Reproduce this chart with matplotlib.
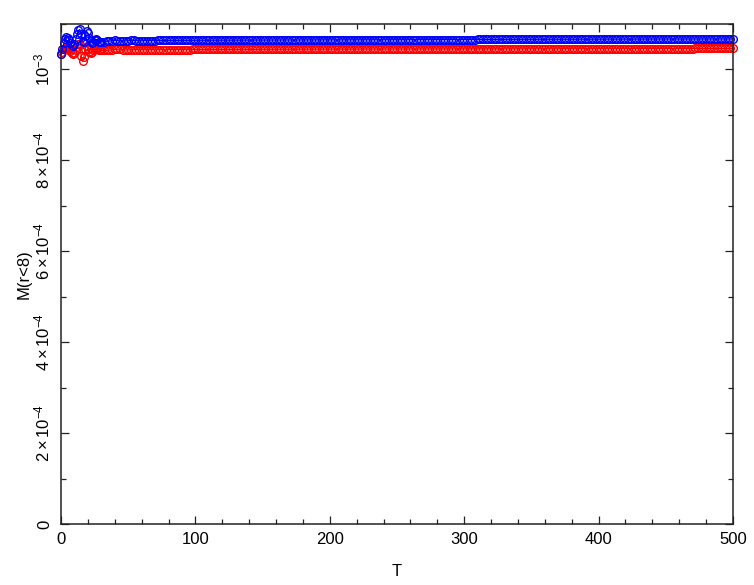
import numpy as np
import matplotlib
matplotlib.use("Agg")
import matplotlib.pyplot as plt
from matplotlib.ticker import MultipleLocator, FixedLocator

plt.rcParams['font.family'] = ['Liberation Sans', 'DejaVu Sans']
plt.rcParams['mathtext.fontset'] = 'custom'
plt.rcParams['mathtext.rm'] = 'Liberation Sans'
plt.rcParams['mathtext.it'] = 'Liberation Sans'

# early part, one point per unit of T (values in units of 1e-3)
t_early = np.arange(0, 31)
blue_early = [1.033, 1.045, 1.058, 1.068, 1.072, 1.070, 1.064, 1.058, 1.054, 1.052,
              1.056, 1.066, 1.078, 1.086, 1.088, 1.078, 1.062, 1.060, 1.074, 1.084,
              1.080, 1.070, 1.062, 1.058, 1.060, 1.064, 1.066, 1.064, 1.061, 1.060,
              1.061]
red_early = [1.033, 1.038, 1.044, 1.048, 1.050, 1.048, 1.044, 1.040, 1.036, 1.034,
             1.036, 1.042, 1.050, 1.056, 1.054, 1.030, 1.018, 1.028, 1.046, 1.052,
             1.046, 1.038, 1.036, 1.038, 1.042, 1.045, 1.046, 1.045, 1.043, 1.042,
             1.042]

# later part, every 2 units of T (T = 32 ... 500)
t_late = np.arange(32, 501, 2)
blue_late = [1.0612, 1.0618, 1.0626, 1.0634, 1.0638, 1.0636, 1.0630, 1.0626, 1.0628, 1.0634,
             1.0638, 1.0638, 1.0634, 1.0632, 1.0634,
             1.0635, 1.0635, 1.0636, 1.0636, 1.0636, 1.0637, 1.0637, 1.0637, 1.0638, 1.0638,
             1.0638, 1.0638, 1.0639, 1.0639, 1.0639, 1.0639, 1.0640, 1.0640, 1.0640, 1.0640,
             1.0641, 1.0641, 1.0641, 1.0641, 1.0642, 1.0642, 1.0642, 1.0642, 1.0643, 1.0643,
             1.0643, 1.0643, 1.0643, 1.0644, 1.0644, 1.0644, 1.0644, 1.0644, 1.0645, 1.0645,
             1.0645, 1.0645, 1.0645, 1.0646, 1.0646, 1.0646, 1.0646, 1.0646, 1.0647, 1.0647,
             1.0647, 1.0647, 1.0647, 1.0647, 1.0648, 1.0648, 1.0648, 1.0648, 1.0648, 1.0649,
             1.0649, 1.0649, 1.0649, 1.0649, 1.0650, 1.0650, 1.0650, 1.0650, 1.0650, 1.0650,
             1.0651, 1.0651, 1.0651, 1.0651, 1.0651, 1.0652, 1.0652, 1.0652, 1.0652, 1.0652,
             1.0652, 1.0653, 1.0653, 1.0653, 1.0653, 1.0653, 1.0653, 1.0654, 1.0654, 1.0654,
             1.0654, 1.0654, 1.0654, 1.0655, 1.0655, 1.0655, 1.0655, 1.0655, 1.0655, 1.0656,
             1.0656, 1.0656, 1.0656, 1.0656, 1.0656, 1.0657, 1.0657, 1.0657, 1.0657, 1.0657,
             1.0657, 1.0658, 1.0658, 1.0658, 1.0658, 1.0658, 1.0658, 1.0659, 1.0659, 1.0659,
             1.0659, 1.0659, 1.0659, 1.0659, 1.0660, 1.0660, 1.0660, 1.0660, 1.0660, 1.0660,
             1.0660, 1.0661, 1.0661, 1.0661, 1.0661, 1.0661, 1.0661, 1.0661, 1.0662, 1.0662,
             1.0662, 1.0662, 1.0662, 1.0662, 1.0662, 1.0662, 1.0663, 1.0663, 1.0663, 1.0663,
             1.0663, 1.0663, 1.0663, 1.0663, 1.0664, 1.0664, 1.0664, 1.0664, 1.0664, 1.0664,
             1.0664, 1.0664, 1.0665, 1.0665, 1.0665, 1.0665, 1.0665, 1.0665, 1.0665, 1.0665,
             1.0666, 1.0666, 1.0666, 1.0666, 1.0666, 1.0666, 1.0666, 1.0666, 1.0666, 1.0667,
             1.0667, 1.0667, 1.0667, 1.0667, 1.0667, 1.0667, 1.0667, 1.0667, 1.0668, 1.0668,
             1.0668, 1.0668, 1.0668, 1.0668, 1.0668, 1.0668, 1.0668, 1.0668, 1.0669, 1.0669,
             1.0669, 1.0669, 1.0669, 1.0669, 1.0669, 1.0669, 1.0669, 1.0669, 1.0670, 1.0670,
             1.0670, 1.0670, 1.0670, 1.0670, 1.0670, 1.0670, 1.0670, 1.0670, 1.0670, 1.0670]
red_late = [1.0420, 1.0418, 1.0424, 1.0432, 1.0440, 1.0444, 1.0442, 1.0436, 1.0430, 1.0428,
            1.0432, 1.0436, 1.0438, 1.0436, 1.0434,
            1.0434, 1.0434, 1.0435, 1.0435, 1.0436, 1.0436, 1.0436, 1.0436, 1.0437, 1.0437,
            1.0437, 1.0437, 1.0437, 1.0438, 1.0438, 1.0438, 1.0438, 1.0438, 1.0439, 1.0439,
            1.0439, 1.0439, 1.0439, 1.0439, 1.0440, 1.0440, 1.0440, 1.0440, 1.0440, 1.0440,
            1.0441, 1.0441, 1.0441, 1.0441, 1.0441, 1.0441, 1.0442, 1.0442, 1.0442, 1.0442,
            1.0442, 1.0442, 1.0442, 1.0443, 1.0443, 1.0443, 1.0443, 1.0443, 1.0443, 1.0443,
            1.0444, 1.0444, 1.0444, 1.0444, 1.0444, 1.0444, 1.0444, 1.0445, 1.0445, 1.0445,
            1.0445, 1.0445, 1.0445, 1.0445, 1.0446, 1.0446, 1.0446, 1.0446, 1.0446, 1.0446,
            1.0446, 1.0447, 1.0447, 1.0447, 1.0447, 1.0447, 1.0447, 1.0447, 1.0447, 1.0448,
            1.0448, 1.0448, 1.0448, 1.0448, 1.0448, 1.0448, 1.0448, 1.0449, 1.0449, 1.0449,
            1.0449, 1.0449, 1.0449, 1.0449, 1.0449, 1.0450, 1.0450, 1.0450, 1.0450, 1.0450,
            1.0450, 1.0450, 1.0450, 1.0450, 1.0451, 1.0451, 1.0451, 1.0451, 1.0451, 1.0451,
            1.0451, 1.0451, 1.0451, 1.0452, 1.0452, 1.0452, 1.0452, 1.0452, 1.0452, 1.0452,
            1.0452, 1.0452, 1.0453, 1.0453, 1.0453, 1.0453, 1.0453, 1.0453, 1.0453, 1.0453,
            1.0453, 1.0454, 1.0454, 1.0454, 1.0454, 1.0454, 1.0454, 1.0454, 1.0454, 1.0454,
            1.0455, 1.0455, 1.0455, 1.0455, 1.0455, 1.0455, 1.0455, 1.0455, 1.0455, 1.0455,
            1.0456, 1.0456, 1.0456, 1.0456, 1.0456, 1.0456, 1.0456, 1.0456, 1.0456, 1.0456,
            1.0457, 1.0457, 1.0457, 1.0457, 1.0457, 1.0457, 1.0457, 1.0457, 1.0457, 1.0457,
            1.0457, 1.0458, 1.0458, 1.0458, 1.0458, 1.0458, 1.0458, 1.0458, 1.0458, 1.0458,
            1.0458, 1.0458, 1.0459, 1.0459, 1.0459, 1.0459, 1.0459, 1.0459, 1.0459, 1.0459,
            1.0459, 1.0459, 1.0459, 1.0460, 1.0460, 1.0460, 1.0460, 1.0460, 1.0460, 1.0460,
            1.0460, 1.0460, 1.0460, 1.0460, 1.0460, 1.0461, 1.0461, 1.0461, 1.0461, 1.0461,
            1.0461, 1.0461, 1.0461, 1.0461, 1.0461, 1.0461, 1.0461, 1.0461, 1.0461, 1.0461]

scale = 1e-3
y_ticks = [0, 2e-4, 4e-4, 6e-4, 8e-4, 1e-3]
y_ticklabels = ['0', r'$2\times10^{-4}$', r'$4\times10^{-4}$', r'$6\times10^{-4}$',
                r'$8\times10^{-4}$', r'$10^{-3}$']
x_ticks = [0, 100, 200, 300, 400, 500]

t = np.concatenate([t_early, t_late])
blue = np.array(blue_early + blue_late) * scale
red = np.array(red_early + red_late) * scale

fig = plt.figure(figsize=(7.54, 5.85), dpi=100)
ax = fig.add_axes([61/754, 61/585, 672/754, 500/585])

style = dict(marker='o', markersize=5.5, markerfacecolor='none', markeredgewidth=1.0,
             linewidth=0.8, clip_on=False)
ax.plot(t, red, color='#ff0000', **style)
ax.plot(t, blue, color='#0000ff', **style)

ax.set_xlim(0, 500)
ax.set_ylim(0, 1.1e-3)
ax.xaxis.set_major_locator(FixedLocator(x_ticks))
ax.xaxis.set_minor_locator(MultipleLocator(20))
ax.yaxis.set_major_locator(FixedLocator(y_ticks))
ax.yaxis.set_minor_locator(MultipleLocator(1e-4))
ax.set_xticklabels([str(v) for v in x_ticks])
ax.set_yticklabels(y_ticklabels)

for s in ax.spines.values():
    s.set_linewidth(1.1)
    s.set_color('#222222')
ax.tick_params(which='both', direction='in', top=True, right=True, width=0.9, color='#222222')
ax.tick_params(which='major', length=6, labelsize=12, pad=6)
ax.tick_params(which='minor', length=3.5)
ax.tick_params(axis='y', labelrotation=90)
for lab in ax.get_yticklabels():
    lab.set_verticalalignment('center')

ax.set_xlabel('T', fontsize=12, labelpad=12)
ax.set_ylabel('M(r<8)', fontsize=12, labelpad=1)

fig.savefig('out.png', dpi=100)
